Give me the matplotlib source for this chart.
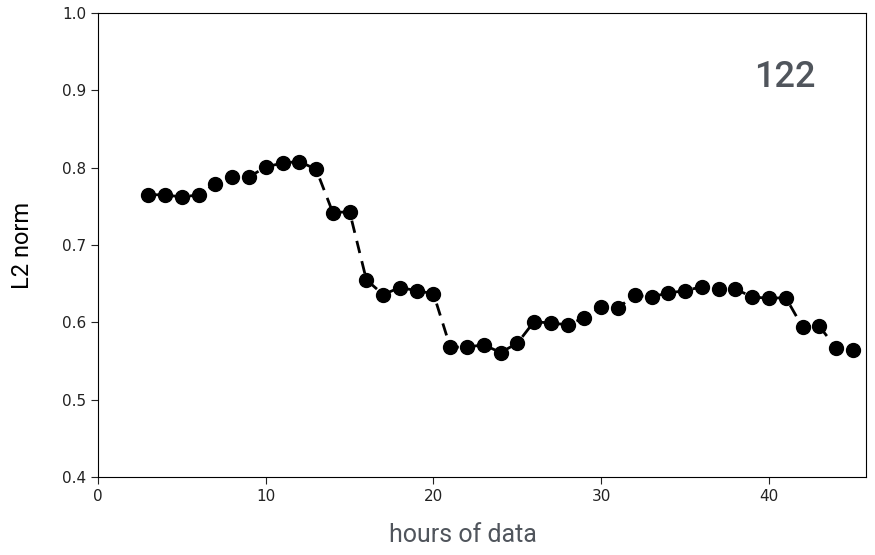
import matplotlib
matplotlib.use('Agg')
import matplotlib.pyplot as plt

# hours of data vs. L2 norm
hours = list(range(3, 46))
l2_norm = [0.765, 0.765, 0.762, 0.765, 0.779, 0.788, 0.788, 0.801, 0.806, 0.808,
           0.798, 0.742, 0.743, 0.655, 0.636, 0.645, 0.641, 0.637, 0.568, 0.568,
           0.571, 0.561, 0.573, 0.601, 0.599, 0.597, 0.606, 0.620, 0.619, 0.635,
           0.633, 0.638, 0.641, 0.646, 0.643, 0.643, 0.633, 0.631, 0.632, 0.594,
           0.595, 0.567, 0.564]
x_ticks = [0, 10, 20, 30, 40]
y_ticks = [0.4, 0.5, 0.6, 0.7, 0.8, 0.9, 1.0]
panel_label = '122'

label_font = ['Roboto', 'DejaVu Sans']
label_color = '#50555c'

fig = plt.figure(figsize=(8.75, 5.55), dpi=100)
ax = fig.add_axes([0.112, 0.1405, 0.878, 0.836])

ax.plot(hours, l2_norm, 'o--', color='black', markersize=10, linewidth=2,
        dashes=(4.5, 3))

ax.set_xlim(0, 45.8)
ax.set_ylim(0.4, 1.0)
ax.set_xticks(x_ticks)
ax.set_yticks(y_ticks)
ax.tick_params(labelsize=11, colors='#222222', length=5)

ax.set_xlabel('hours of data', fontsize=18, family=label_font, color=label_color)
ax.set_ylabel('L2 norm', fontsize=17, family=label_font, color='black')
ax.xaxis.set_label_coords(0.475, -0.1)
ax.yaxis.set_label_coords(-0.083, 0.5)

ax.text(0.934, 0.86, panel_label, transform=ax.transAxes, fontsize=26,
        family=label_font, fontweight='medium', color=label_color,
        ha='right', va='center')

fig.savefig('out.png', dpi=100)
